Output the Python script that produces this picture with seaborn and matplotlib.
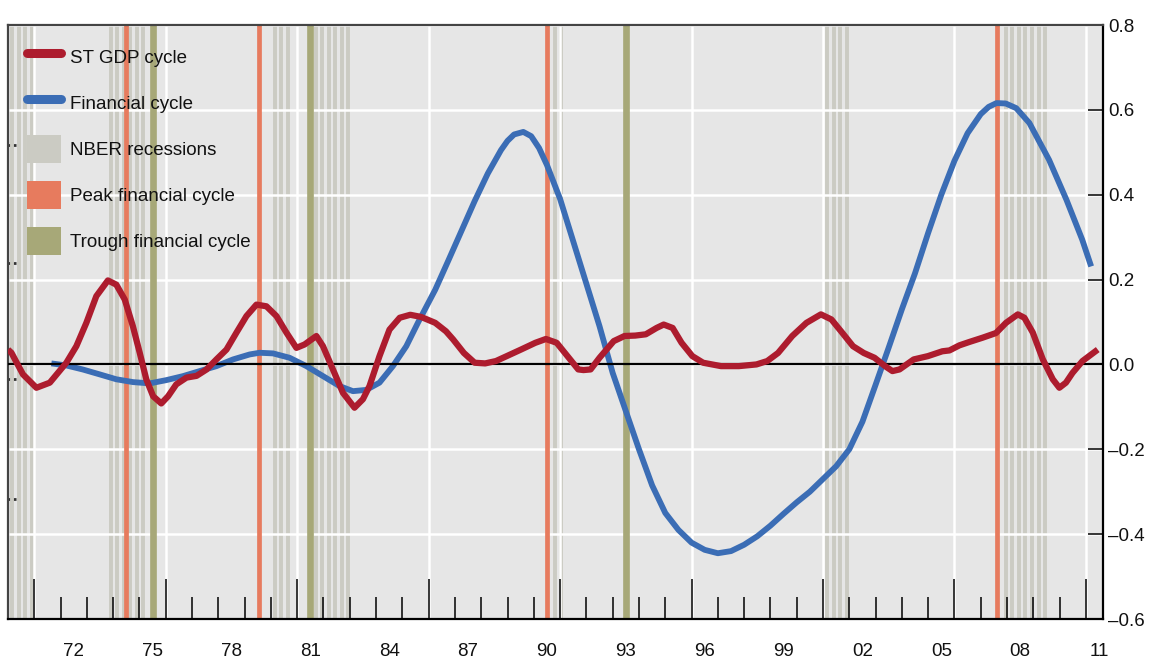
import numpy as np
import pandas as pd
import seaborn as sns
import matplotlib.pyplot as plt
from matplotlib.lines import Line2D
from matplotlib.patches import Patch

# data (x in decimal years)
gdp_years = [1970.0, 1970.13, 1970.57, 1971.08, 1971.59, 1972.22, 1972.6, 1972.98, 1973.36, 1973.8,
             1974.12, 1974.44, 1974.75, 1975.01, 1975.26, 1975.52, 1975.83, 1976.09, 1976.4, 1976.79,
             1977.17, 1977.55, 1977.93, 1978.31, 1978.69, 1979.07, 1979.45, 1979.83, 1980.21, 1980.59,
             1980.97, 1981.28, 1981.73, 1981.98, 1982.36, 1982.74, 1983.18, 1983.5, 1983.75, 1984.13,
             1984.51, 1984.9, 1985.3, 1985.71, 1986.25, 1986.66, 1986.93, 1987.34, 1987.75, 1988.15,
             1988.56, 1988.97, 1989.51, 1990.06, 1990.46, 1990.87, 1991.28, 1991.69, 1991.89, 1992.16,
             1992.5, 1993.04, 1993.45, 1993.86, 1994.26, 1994.67, 1994.94, 1995.28, 1995.62, 1996.03,
             1996.44, 1997.12, 1997.8, 1998.47, 1998.88, 1999.29, 1999.83, 2000.37, 2000.92, 2001.32,
             2001.74, 2002.14, 2002.55, 2002.96, 2003.36, 2003.64, 2003.91, 2004.45, 2004.99, 2005.54,
             2005.81, 2006.19, 2006.57, 2007.07, 2007.58, 2007.96, 2008.41, 2008.66, 2008.98, 2009.36,
             2009.74, 2009.99, 2010.24, 2010.49, 2010.87, 2011.45]
gdp_values = [0.035, 0.0275, -0.0235, -0.055, -0.043, 0.004, 0.043, 0.098, 0.161, 0.198,
              0.188, 0.153, 0.09, 0.0275, -0.035, -0.075, -0.092, -0.075, -0.047, -0.031,
              -0.027, -0.012, 0.012, 0.035, 0.075, 0.114, 0.141, 0.137, 0.114, 0.075,
              0.039, 0.047, 0.067, 0.043, -0.012, -0.067, -0.102, -0.082, -0.051, 0.0195,
              0.082, 0.11, 0.117, 0.112, 0.098, 0.078, 0.059, 0.027, 0.004, 0.0024,
              0.008, 0.0196, 0.035, 0.051, 0.06, 0.051, 0.0196, -0.0118, -0.0133, -0.0118,
              0.0157, 0.055, 0.067, 0.068, 0.071, 0.086, 0.094, 0.086, 0.051, 0.0196,
              0.004, -0.004, -0.004, 0.0, 0.008, 0.027, 0.067, 0.098, 0.118, 0.106,
              0.074, 0.043, 0.027, 0.0157, -0.004, -0.0157, -0.0118, 0.0118, 0.0196, 0.031,
              0.033, 0.045, 0.053, 0.063, 0.074, 0.098, 0.118, 0.11, 0.075, 0.012,
              -0.035, -0.055, -0.043, -0.02, 0.008, 0.035]

fin_years = [1971.65, 1972.22, 1972.85, 1973.49, 1974.12, 1974.75, 1975.39, 1976.02, 1976.66, 1977.29,
             1977.93, 1978.56, 1979.19, 1979.57, 1980.08, 1980.71, 1981.35, 1981.98, 1982.61, 1983.12,
             1983.63, 1984.13, 1984.64, 1985.15, 1985.59, 1986.25, 1986.75, 1987.25, 1987.75, 1988.25,
             1988.75, 1989.0, 1989.25, 1989.6, 1989.9, 1990.2, 1990.5, 1991.0, 1991.5, 1992.0,
             1992.5, 1993.0, 1993.5, 1994.0, 1994.5, 1995.0, 1995.5, 1996.0, 1996.5, 1997.0,
             1997.5, 1998.0, 1998.5, 1999.0, 1999.5, 2000.0, 2000.5, 2001.0, 2001.5, 2002.0,
             2002.5, 2003.0, 2003.5, 2004.0, 2004.5, 2005.0, 2005.5, 2006.0, 2006.5, 2007.0,
             2007.3, 2007.6, 2007.95, 2008.35, 2008.85, 2009.6, 2010.26, 2010.86, 2011.2]
fin_values = [0.0024, -0.0024, -0.012, -0.0235, -0.035, -0.0416, -0.0447, -0.037, -0.0275, -0.0157,
              -0.004, 0.0118, 0.0235, 0.0275, 0.026, 0.0157, -0.004, -0.0275, -0.051, -0.063,
              -0.06, -0.043, -0.004, 0.043, 0.098, 0.176, 0.245, 0.315, 0.385, 0.45,
              0.505, 0.527, 0.542, 0.548, 0.538, 0.51, 0.47, 0.39, 0.29, 0.19,
              0.09, -0.02, -0.11, -0.2, -0.285, -0.35, -0.39, -0.42, -0.437, -0.445,
              -0.44, -0.425, -0.405, -0.38, -0.352, -0.325, -0.3, -0.27, -0.24, -0.2,
              -0.135, -0.048, 0.04, 0.13, 0.215, 0.31, 0.40, 0.48, 0.545, 0.59,
              0.607, 0.616, 0.615, 0.604, 0.569, 0.482, 0.388, 0.294, 0.231]

# NBER recessions (drawn quarter by quarter), peaks and troughs of the financial cycle
rec_start = [1970.15, 1973.9, 1980.15, 1981.7, 1990.8, 2001.15, 2007.95]
rec_end = [1970.9, 1975.15, 1980.65, 1982.95, 1991.05, 2001.9, 2009.45]
peaks = [1974.5, 1979.55, 1990.5, 2007.6]
troughs = [1975.5, 1981.5, 1993.5]

x_label_years = [1972, 1975, 1978, 1981, 1984, 1987, 1990, 1993, 1996, 1999, 2002, 2005, 2008, 2011]
x_labels = ['72', '75', '78', '81', '84', '87', '90', '93', '96', '99', '02', '05', '08', '11']
y_ticks = [-0.6, -0.4, -0.2, 0.0, 0.2, 0.4, 0.6, 0.8]
y_labels = ['\u20130.6', '\u20130.4', '\u20130.2', '0.0', '0.2', '0.4', '0.6', '0.8']
left_marks = [0.518, 0.24, -0.035, -0.318]

RED = '#ad1c2e'
BLUE = '#3b6db5'
GRAY = '#cbcbc3'
ORANGE = '#e77b5e'
OLIVE = '#a7a878'
FS = 13.5

sns.set_theme(style="darkgrid", rc={"axes.facecolor": "#e6e6e6", "grid.color": "white",
                                    "grid.linewidth": 1.8})
plt.rcParams['font.family'] = ['Liberation Sans', 'DejaVu Sans']

fig = plt.figure(figsize=(11.49, 6.66), dpi=100)
ax = fig.add_axes([8 / 1149, 47 / 666, 1095 / 1149, 594 / 666])

for s, e in zip(rec_start, rec_end):
    for q in np.arange(s, e + 0.01, 0.25):
        ax.axvline(q, color=GRAY, lw=2.8, zorder=0.2)
for p in peaks:
    ax.axvline(p, color=ORANGE, lw=3.4, zorder=1)
for t in troughs:
    ax.axvline(t, color=OLIVE, lw=4.8, zorder=1)

fin = pd.DataFrame({'year': fin_years, 'value': fin_values})
gdp = pd.DataFrame({'year': gdp_years, 'value': gdp_values})
sns.lineplot(data=fin, x='year', y='value', color=BLUE, lw=4.2, ax=ax, zorder=3,
             solid_joinstyle='round', solid_capstyle='butt')
ax.axhline(0, color='black', lw=1.6, zorder=3.5)
sns.lineplot(data=gdp, x='year', y='value', color=RED, lw=4.5, ax=ax, zorder=4,
             solid_joinstyle='round', solid_capstyle='butt')

ax.set_xlim(1970.0, 2011.65)
ax.set_ylim(-0.6, 0.8)
ax.set_xlabel('')
ax.set_ylabel('')

# x: long ticks every 5 years, short ticks every year, both pointing in
ax.set_xticks(list(range(1971, 2012, 5)))
ax.set_xticks(list(range(1971, 2012)), minor=True)
ax.tick_params(axis='x', which='major', direction='in', length=29, width=1.1, color='black',
               bottom=True, labelbottom=False)
ax.tick_params(axis='x', which='minor', direction='in', length=16, width=1.1, color='black',
               bottom=True)
ax.grid(True, which='major', axis='both')
ax.grid(False, which='minor')

sec = ax.secondary_xaxis('bottom')
sec.set_xticks([y + 0.5 for y in x_label_years])
sec.set_xticklabels(x_labels)
sec.tick_params(length=0, pad=17, labelsize=FS, labelcolor='#111111')
sec.spines['bottom'].set_visible(False)

ax.yaxis.tick_right()
ax.set_yticks(y_ticks)
ax.set_yticklabels(y_labels)
ax.tick_params(axis='y', direction='in', length=11, width=1.1, color='black', right=True,
               left=False, labelright=True, labelleft=False, pad=3.5, labelsize=FS,
               labelcolor='#111111')

lsec = ax.secondary_yaxis('left')
lsec.set_yticks(left_marks)
lsec.tick_params(direction='in', length=6, width=2, color='#333333', labelleft=False)
lsec.spines['left'].set_visible(False)

for side in ['left', 'top', 'right', 'bottom']:
    ax.spines[side].set_visible(True)
    ax.spines[side].set_color('black')
    ax.spines[side].set_linewidth(1.6)
ax.spines['left'].set_color('#444444')
ax.spines['top'].set_color('#444444')

handles = [Line2D([], [], color=RED, lw=6.5),
           Line2D([], [], color=BLUE, lw=6.5),
           Patch(facecolor=GRAY, edgecolor='none'),
           Patch(facecolor=ORANGE, edgecolor='none'),
           Patch(facecolor=OLIVE, edgecolor='none')]
labels = ['ST GDP cycle', 'Financial cycle', 'NBER recessions', 'Peak financial cycle',
          'Trough financial cycle']
leg = ax.legend(handles, labels, loc='upper left', bbox_to_anchor=(19 / 1095, 1 - 18 / 594),
                frameon=False, fontsize=FS, handlelength=1.8, handleheight=1.92,
                handletextpad=0.48, labelspacing=0.96, borderpad=0, borderaxespad=0)
leg.set_zorder(10)
for txt in leg.get_texts():
    txt.set_color('#111111')

fig.savefig('out.png', dpi=100)
